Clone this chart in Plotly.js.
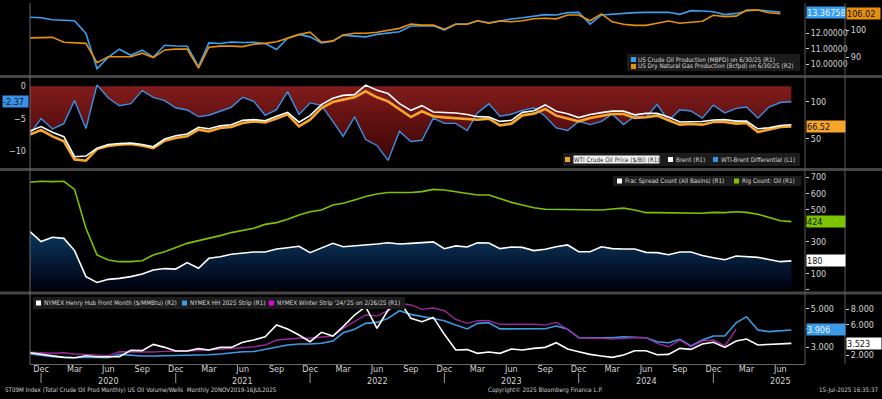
<!DOCTYPE html>
<html><head><meta charset="utf-8">
<script src="https://cdn.plot.ly/plotly-3.0.1.min.js"></script>
<style>html,body{margin:0;padding:0;background:#000;}#chart{width:882px;height:399px;}</style>
</head><body><div id="chart"></div>
<script>
// ---------- DATA (monthly, Nov 2019 .. Jul 2025) ----------
const startYear = 2019, startMonthIndex = 10; // Nov 2019
const monthCount = 69;

const crudeProd = [13.03,13.0,12.87,12.85,12.8,11.98,9.7,10.45,10.96,10.57,
  10.9,10.45,11.22,11.17,11.15,9.85,11.37,11.33,11.43,11.4,
  11.41,11.33,10.94,11.68,11.92,11.76,11.37,11.48,11.87,11.81,
  11.76,11.92,11.98,12.09,12.46,12.48,12.48,12.2,12.59,12.59,
  12.8,12.67,12.8,12.92,13.0,13.11,13.2,13.18,13.33,13.35,
  12.59,13.18,13.24,13.28,13.33,13.35,13.33,13.35,13.22,13.46,
  13.44,13.39,13.2,13.28,13.44,13.5,13.44,13.36758];
const gasProd = [97.1,97.1,97.3,95.5,95.4,95.1,88.0,90.2,90.2,90.2,
  91.5,89.9,92.7,93.0,93.0,86.0,93.7,94.1,94.1,93.9,
  94.8,95.1,95.7,96.9,98.3,99.2,95.5,96.0,98.2,98.8,
  98.8,99.2,100.0,100.6,102.2,101.8,101.8,100.3,102.1,102.1,
  103.4,102.5,103.3,103.0,103.4,104.1,104.3,104.1,105.5,105.5,
  103.4,105.9,103.0,102.1,101.7,101.7,102.5,103.3,102.5,102.9,
  103.2,105.4,104.9,105.1,107.3,107.3,106.3,106.02];
const wti = [55.5,61.8,53.2,46.4,21.8,20.0,35.9,40.0,41.8,42.7,
  40.5,37.3,47.3,50.9,53.2,62.3,60.0,64.5,65.9,71.4,
  73.6,72.0,77.3,83.2,66.8,75.9,91.8,100.0,103.2,106.4,
  114.5,106.4,100.9,90.5,79.5,87.3,80.5,79.1,78.2,76.8,
  75.9,77.3,68.2,70.5,81.8,84.1,90.5,81.4,77.3,73.6,
  78.2,80.5,83.6,83.6,78.2,79.1,81.4,75.0,69.1,70.0,
  69.1,72.7,72.7,70.5,71.4,59.1,62.3,65.9,66.52];
const brent = [60.5,66.5,58.7,52.8,25.5,26.4,37.0,42.0,43.4,44.0,
  42.0,39.0,49.5,54.0,56.5,65.5,63.5,67.5,69.0,75.0,
  76.0,74.5,80.5,85.9,72.5,81.5,96.5,105.0,109.0,110.0,
  123.0,115.9,111.5,97.7,88.6,95.0,86.4,85.5,85.0,83.0,
  80.0,79.5,73.6,75.0,85.9,88.0,96.0,87.3,84.0,78.8,
  83.0,85.5,87.5,87.5,82.5,84.5,84.5,79.5,72.7,73.0,
  73.5,75.5,76.0,74.0,74.0,63.5,65.0,68.0,69.0];
const wtiBrentDiff = [-7.33,-4.97,-6.56,-5.74,-2.2,-6.5,0.2,-1.8,-3.0,-2.67,
  -0.67,-1.7,-2.2,-3.3,-3.64,-4.67,-4.46,-3.85,-3.23,-1.7,
  -2.3,-4.46,-3.6,-0.82,-4.36,-2.56,-2.92,-5.4,-7.7,-4.7,
  -8.2,-9.1,-11.4,-6.9,-8.5,-8.3,-4.9,-5.7,-5.7,-6.8,
  -4.1,-2.7,-4.6,-4.3,-3.7,-3.3,-4.6,-6.4,-6.8,-5.4,
  -5.9,-5.4,-4.3,-5.9,-4.6,-4.8,-2.8,-5.3,-3.6,-3.8,
  -4.9,-2.9,-4.1,-3.4,-3.2,-4.9,-3.2,-2.5,-2.37];
const fracSpreads = [362,300,327,320,244,82,46,65,71,82,
  98,123,132,129,169,134,196,206,221,227,
  235,235,254,262,271,231,258,289,268,273,
  279,285,293,285,289,293,298,256,273,266,
  293,291,256,266,264,244,252,268,279,237,
  237,268,256,254,254,233,231,218,235,235,
  214,200,187,210,206,202,189,175,180];
const oilRigs = [669,675,673,675,625,383,217,185,175,175,
  181,217,237,264,289,306,320,337,356,368,
  383,407,418,439,466,486,497,528,538,559,
  580,596,605,605,605,611,625,621,611,600,
  590,590,569,544,528,511,501,501,499,497,
  497,497,503,508,497,480,480,480,480,480,
  476,482,480,486,482,470,449,430,424];
const hhFront = [2.30,2.13,1.87,1.70,1.65,1.91,1.78,1.78,1.78,2.61,
  2.57,3.39,3.0,2.52,2.52,2.83,2.65,3.0,3.0,3.66,
  3.96,4.39,5.91,5.39,4.61,3.74,4.96,4.48,5.70,7.22,
  8.30,5.48,7.87,9.08,6.78,6.35,6.91,4.7,2.65,2.71,
  2.22,2.39,2.22,2.78,2.65,2.87,3.0,3.61,2.78,2.44,
  2.09,1.87,1.70,2.0,2.56,2.56,2.04,2.09,2.87,2.74,
  3.44,3.66,3.0,3.83,4.09,3.31,3.40,3.44,3.523];
const hh2025Strip = [2.65,2.58,2.51,2.48,2.46,2.48,2.46,2.46,2.63,2.58,
  2.55,2.55,2.56,2.56,2.58,2.60,2.61,2.65,2.72,2.77,
  2.78,2.90,3.03,3.12,3.17,3.17,3.21,3.33,3.76,3.94,
  4.25,4.30,4.51,4.91,4.72,4.60,4.51,4.39,4.16,3.96,
  4.25,4.28,3.96,3.97,3.97,3.97,3.97,4.11,3.94,3.50,
  3.50,3.50,3.50,3.55,3.52,3.50,3.29,3.24,3.42,3.07,
  3.38,3.59,3.59,4.28,4.60,3.90,3.82,3.87,3.906];
const winterStrip = [2.74,2.72,2.69,2.72,2.65,2.63,2.60,2.56,2.77,2.77,
  2.74,2.76,2.79,2.79,2.81,2.83,2.86,2.90,2.95,2.98,
  3.03,3.12,3.38,3.42,3.47,3.47,3.52,3.59,3.99,4.34,
  4.69,4.64,4.91,5.30,5.21,4.98,5.05,4.91,4.46,4.25,
  4.39,4.39,4.20,4.20,4.20,4.20,4.16,4.30,3.94,3.50,
  3.47,3.47,3.43,3.47,3.50,3.50,3.21,3.03,3.38,3.03,
  3.33,3.38,3.07,3.94];

const monthTickNames = ['Dec','Mar','Jun','Sep'];
const yearLabels = ['2020','2021','2022','2023','2024','2025'];

// ---------- helpers ----------
function monthDate(i){
  const d = new Date(Date.UTC(startYear, startMonthIndex + i, 1));
  return d.toISOString().slice(0,10);
}
const dates = [];
for (let i=0;i<monthCount;i++) dates.push(monthDate(i));

const tickVals = [], tickText = [], decDates = [];
for (let i=1;i<monthCount;i+=3){
  tickVals.push(dates[i]);
  tickText.push(monthTickNames[((i-1)/3)%4]);
  if (((i-1)/3)%4===0) decDates.push(dates[i]);
}
const junDates = yearLabels.map((y)=> y+'-06-01');

const W=882,H=399,L=30;
const X = p => (p-L)/(W-L);
const Y = p => (H-p)/H;
const FONT = 'Liberation Sans Narrow, Arial Narrow, DejaVu Sans Condensed, sans-serif';
const TXT = '#d4d4d4';

const C = {crude:'#3a9ff0', gas:'#e8900c', wti:'#f7a52a', brent:'#ffffff', diff:'#3a90e6',
  frac:'#ffffff', rig:'#7cc400', hh:'#ffffff', strip:'#3c9be6', winter:'#9a2898', winterLeg:'#e000e0'};

const traces = [
  {x:dates.slice(0,crudeProd.length), y:crudeProd, yaxis:'y', name:'US Crude Oil Production', line:{color:C.crude,width:1.6}},
  {x:dates.slice(0,gasProd.length), y:gasProd, yaxis:'y2', name:'US Dry Natural Gas Production', line:{color:C.gas,width:1.6}},
  {x:dates, y:wtiBrentDiff, yaxis:'y3', name:'WTI-Brent Differential', line:{color:C.diff,width:1.4},
    fill:'tozeroy', fillcolor:'#6a1010',
    fillgradient:{type:'vertical', start:-12, stop:0, colorscale:[[0,'#360303'],[1,'#821c1c']]}},
  {x:dates, y:wti, yaxis:'y4', name:'WTI Crude Oil Price', line:{color:C.wti,width:2.6}},
  {x:dates, y:brent, yaxis:'y4', name:'Brent', line:{color:C.brent,width:1.6}},
  {x:dates, y:fracSpreads, yaxis:'y5', name:'Frac Spread Count', line:{color:C.frac,width:1.6},
    fill:'tozeroy', fillcolor:'#062040',
    fillgradient:{type:'vertical', start:0, stop:360, colorscale:[[0,'#00000e'],[1,'#0c3860']]}},
  {x:dates, y:oilRigs, yaxis:'y5', name:'Rig Count: Oil', line:{color:C.rig,width:1.6}},
  {x:dates, y:hh2025Strip, yaxis:'y6', name:'NYMEX HH 2025 Strip', line:{color:C.strip,width:1.6}},
  {x:dates.slice(0,winterStrip.length), y:winterStrip, yaxis:'y6', name:'NYMEX Winter Strip', line:{color:C.winter,width:1.4}},
  {x:dates, y:hhFront, yaxis:'y7', name:'NYMEX Henry Hub Front Month', line:{color:C.hh,width:1.6}}
].map(t=>Object.assign({type:'scatter', mode:'lines', xaxis:'x', showlegend:false, hoverinfo:'skip'}, t));

const xEnd = X(805), xFree = X(845);
const tickFont = {family:FONT, size:9, color:TXT};
function yax(o){
  return Object.assign({showgrid:false, zeroline:false, showline:false, ticks:'outside', ticklen:3,
    tickcolor:'#cfcfcf', tickwidth:1, tickfont:tickFont, fixedrange:true}, o);
}

const layout = {
  width:W, height:H, margin:{l:L, r:0, t:0, b:0},
  paper_bgcolor:'#000', plot_bgcolor:'#000', font:{family:FONT, color:TXT},
  showlegend:false,
  xaxis:{domain:[0,xEnd], type:'date', range:['2019-11-01','2025-08-07'], anchor:'y6',
    showgrid:false, zeroline:false, showline:true, linecolor:'#666', linewidth:1,
    tickvals:tickVals, ticktext:tickText, ticks:'', ticklabelstandoff:-4,
    tickfont:{family:FONT,size:9,color:TXT}, fixedrange:true},
  yaxis: yax({domain:[Y(75),Y(6)], range:[9.29,13.76], side:'right', anchor:'x',
    tickvals:[10,11,12,13], ticktext:['10.00000','11.00000','12.00000',''], tickfont:{family:FONT,size:8.6,color:TXT}}),
  yaxis2: yax({overlaying:'y', range:[83.5,108.8], side:'right', anchor:'free', position:xFree,
    tickvals:[90,100]}),
  yaxis3: yax({domain:[Y(168),Y(79)], range:[-12.57,1.12], side:'left', anchor:'x',
    tickvals:[0,-5,-10], ticks:'', ticklabelstandoff:3}),
  yaxis4: yax({overlaying:'y3', range:[10.1,131.3], side:'right', anchor:'x', tickvals:[50,100]}),
  yaxis5: yax({domain:[Y(292),Y(172)], range:[-13.7,733], side:'right', anchor:'x',
    tickvals:[0,100,200,300,400,500,600,700], ticktext:['','100','','300','','500','600','700']}),
  yaxis6: yax({domain:[Y(364),Y(295)], range:[2.13,5.73], side:'right', anchor:'x',
    tickvals:[3,4,5], ticktext:['3.000','','5.000']}),
  yaxis7: yax({overlaying:'y6', range:[0.83,9.83], side:'right', anchor:'free', position:xFree,
    tickvals:[2,4,6,8], ticktext:['2.000','','6.000','8.000']}),
  shapes:[], annotations:[]
};

const S = layout.shapes, A = layout.annotations;
[76.5,169.5,293].forEach(p=>S.push({type:'line', xref:'paper', yref:'paper', x0:X(0), x1:X(882), y0:Y(p), y1:Y(p),
  line:{color:'#454545', width:3}, layer:'above'}));
S.push({type:'line', xref:'paper', yref:'paper', x0:0, x1:0, y0:Y(364), y1:Y(3), line:{color:'#6a6a6a', width:1}});
[805,845].forEach(p=>S.push({type:'line', xref:'paper', yref:'paper', x0:X(p), x1:X(p), y0:Y(364), y1:Y(3),
  line:{color:'#5a5a5a', width:1}}));
decDates.forEach(d=>S.push({type:'line', xref:'x', yref:'paper', x0:d, x1:d, y0:Y(373), y1:Y(383),
  line:{color:'#9a9a9a', width:1}}));
yearLabels.forEach((y,k)=>A.push({xref:'x', yref:'paper', x:junDates[k], y:Y(380.5), text:y, showarrow:false,
  font:{family:FONT,size:9,color:TXT}, xanchor:'center', yanchor:'middle', borderpad:0}));

// legends
const legFont = {family:FONT, size:6.3, color:'#d8d8d8'};
function legBox(x0,x1,y0,y1){ S.push({type:'rect', xref:'paper', yref:'paper', x0:X(x0), x1:X(x1), y0:Y(y1), y1:Y(y0),
  fillcolor:'#1c1c1c', line:{width:0}, layer:'above'}); }
function legItem(xs, yc, color, label, xt, extra){
  S.push({type:'rect', xref:'paper', yref:'paper', x0:X(xs), x1:X(xs+5), y0:Y(yc+2.5), y1:Y(yc-2.5),
    fillcolor:color, line:{width:0}, layer:'above'});
  A.push(Object.assign({xref:'paper', yref:'paper', x:X(xt), y:Y(yc), text:label, showarrow:false,
    xanchor:'left', yanchor:'middle', font:legFont, borderpad:0}, extra||{}));
}
legBox(627,800,54,71);
legItem(631,59.5,C.crude,'US Crude Oil Production (MBPD) on 6/30/25 (R1)',637);
legItem(631,66.5,C.gas,'US Dry Natural Gas Production (Bcfpd) on 6/30/25 (R2)',637);
legBox(563,800,153,166);
legItem(565,159.5,C.wti,'WTI Crude Oil Price ($/Bl) (R1)',573,{bgcolor:'#f2f2f2', font:{family:FONT,size:6.3,color:'#222'}});
legItem(668,159.5,'#ffffff','Brent (R1)',675);
legItem(713,159.5,C.diff,'WTI-Brent Differential (L1)',720);
legBox(613,801,176,186);
legItem(617,181,'#ffffff','Frac Spread Count (All Basins) (R1)',624);
legItem(734,181,C.rig,'Rig Count: Oil (R1)',741);
legBox(33,405,297,309);
legItem(36,303,'#ffffff','NYMEX Henry Hub Front Month ($/MMBtu) (R2)',43);
legItem(182,303,C.strip,'NYMEX HH 2025 Strip (R1)',189);
legItem(269,303,C.winterLeg,"NYMEX Winter Strip '24/'25 on 2/26/25 (R1)",276);

function tag(xp, yref, val, txt, bg, fg, w, anchor){
  A.push({xref:'paper', yref:yref, x:X(xp), y:val, text:txt, showarrow:false, xanchor:anchor||'left', yanchor:'middle',
    bgcolor:bg, font:{family:FONT,size:9,color:fg}, width:w, height:11, align:'left', borderpad:0});
}
tag(806,'y',crudeProd[crudeProd.length-1],'13.36758',C.crude,'#e8f4ff',38);
tag(846,'y2',gasProd[gasProd.length-1],'106.02',C.gas,'#111',33);
tag(29,'y3',wtiBrentDiff[wtiBrentDiff.length-1],'-2.37',C.diff,'#0a1a30',25,'right');
tag(806,'y4',wti[wti.length-1],'66.52',C.wti,'#111',38);
tag(806,'y5',oilRigs[oilRigs.length-1],'424',C.rig,'#111',38);
tag(806,'y5',fracSpreads[fracSpreads.length-1],'180','#ffffff','#111',38);
tag(806,'y6',hh2025Strip[hh2025Strip.length-1],'3.906',C.strip,'#e8f4ff',38);
tag(846,'y7',hhFront[hhFront.length-1],'3.523','#ffffff','#111',34);

const footFont = {family:FONT, size:6.2, color:'#cfcfcf'};
A.push({xref:'paper', yref:'paper', x:X(4), y:Y(390), text:'ST09M Index (Total Crude Oil Prod Monthly) US Oil Volume/Wells  Monthly 20NOV2019-16JUL2025',
  showarrow:false, xanchor:'left', yanchor:'middle', font:footFont, borderpad:0});
A.push({xref:'paper', yref:'paper', x:X(545), y:Y(390), text:'Copyright© 2025 Bloomberg Finance L.P.',
  showarrow:false, xanchor:'center', yanchor:'middle', font:footFont, borderpad:0});
A.push({xref:'paper', yref:'paper', x:X(880), y:Y(390), text:'15-Jul-2025 16:35:37',
  showarrow:false, xanchor:'right', yanchor:'middle', font:footFont, borderpad:0});

Plotly.newPlot('chart', traces, layout, {staticPlot:true, displayModeBar:false});
</script></body></html>
